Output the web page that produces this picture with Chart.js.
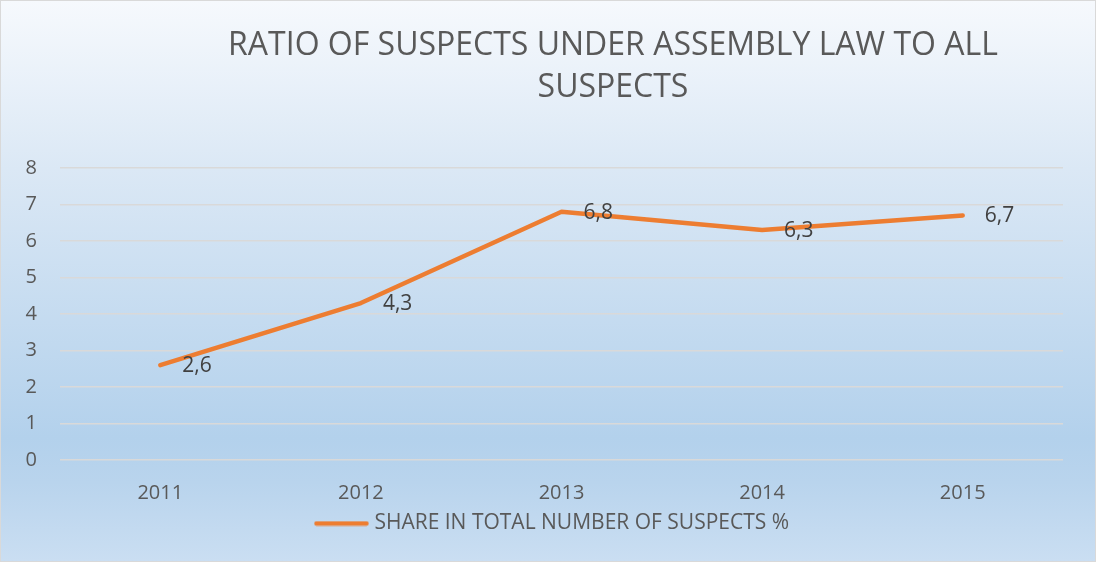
<!DOCTYPE html>
<html>
<head>
<meta charset="utf-8">
<script src="https://cdn.jsdelivr.net/npm/chart.js@4.4.0/dist/chart.umd.min.js"></script>
<style>
  body { margin: 0; }
  #wrap {
    width: 1096px;
    height: 562px;
    box-sizing: border-box;
    border: 1px solid #d9d9d9;
    background: linear-gradient(to bottom, #f6f9fd 0%, #dbe8f5 30%, #b3d1ec 78%, #b9d4ed 86%, #cadef2 100%);
  }
</style>
</head>
<body>
<div id="wrap"><canvas id="chart"></canvas></div>
<script>
// chart data
const years = ['2011', '2012', '2013', '2014', '2015'];
const shareValues = [2.6, 4.3, 6.8, 6.3, 6.7];
const yTickValues = [0, 1, 2, 3, 4, 5, 6, 7, 8];
const titleLines = ['RATIO OF SUSPECTS UNDER ASSEMBLY LAW TO ALL', 'SUSPECTS'];
const seriesLabel = 'SHARE IN TOTAL NUMBER OF SUSPECTS %';

const textColor = '#595959';
const lineColor = '#ED7D31';

// legend marker: a 55px line, a bit wider than the legend box so the text sits close
const legendLine = document.createElement('canvas');
legendLine.width = 55;
legendLine.height = 6;
(function () {
  const c = legendLine.getContext('2d');
  c.strokeStyle = lineColor;
  c.lineWidth = 4.5;
  c.lineCap = 'round';
  c.beginPath();
  c.moveTo(2.5, 3);
  c.lineTo(52.5, 3);
  c.stroke();
})();

// draws the two-line title, a bit right of centre like the original
const titlePlugin = {
  id: 'titleLines',
  afterDraw(chart) {
    const ctx = chart.ctx;
    ctx.save();
    ctx.font = '32px "Open Sans"';
    ctx.fillStyle = textColor;
    ctx.textAlign = 'center';
    ctx.textBaseline = 'middle';
    ctx.fillText(titleLines[0], 612, 45);
    ctx.fillText(titleLines[1], 612, 87);
    ctx.restore();
  }
};

// value labels to the right of each point, with decimal comma
const valueLabels = {
  id: 'valueLabels',
  afterDatasetsDraw(chart) {
    const ctx = chart.ctx;
    const meta = chart.getDatasetMeta(0);
    ctx.save();
    ctx.font = '21px "Open Sans"';
    ctx.fillStyle = '#404040';
    ctx.textAlign = 'left';
    ctx.textBaseline = 'middle';
    meta.data.forEach(function (pt, i) {
      const txt = String(shareValues[i]).replace('.', ',');
      ctx.fillText(txt, pt.x + 22, pt.y + 1);
    });
    ctx.restore();
  }
};

// nudge the legend so it sits under the plot like the original
const legendShift = {
  id: 'legendShift',
  afterLayout(chart) {
    const lg = chart.legend;
    const shift = 553 - (lg.left + lg.right) / 2;
    lg.left += shift;
    lg.right += shift;
  }
};

new Chart(document.getElementById('chart'), {
  type: 'line',
  data: {
    labels: years,
    datasets: [{
      label: seriesLabel,
      data: shareValues,
      borderColor: lineColor,
      backgroundColor: lineColor,
      borderWidth: 4.5,
      borderCapStyle: 'round',
      borderJoinStyle: 'round',
      pointRadius: 0,
      pointHoverRadius: 0,
      tension: 0,
      fill: false
    }]
  },
  options: {
    responsive: true,
    maintainAspectRatio: false,
    animation: false,
    layout: {
      padding: { top: 167, right: 32, bottom: 17, left: 0 }
    },
    scales: {
      x: {
        offset: true,
        grid: { display: false, drawTicks: false },
        border: { display: false },
        ticks: {
          color: textColor,
          font: { family: 'Open Sans', size: 20 },
          padding: 21,
          maxRotation: 0
        },
        afterFit(scale) { scale.height = 49; }
      },
      y: {
        min: 0,
        max: 8,
        afterBuildTicks(scale) {
          scale.ticks = yTickValues.map(v => ({ value: v }));
        },
        grid: { color: '#d9d9d9', lineWidth: 1.5, drawTicks: false },
        border: { display: false },
        ticks: {
          color: textColor,
          font: { family: 'Open Sans', size: 20 },
          padding: 23
        },
        afterFit(scale) { scale.width = 59; }
      }
    },
    plugins: {
      title: { display: false },
      tooltip: { enabled: false },
      legend: {
        display: true,
        position: 'bottom',
        labels: {
          color: textColor,
          font: { family: 'Open Sans', size: 21 },
          usePointStyle: true,
          pointStyle: legendLine,
          pointStyleWidth: 45,
          boxHeight: 21,
          padding: 4
        }
      }
    }
  },
  plugins: [titlePlugin, valueLabels, legendShift]
});
</script>
</body>
</html>
